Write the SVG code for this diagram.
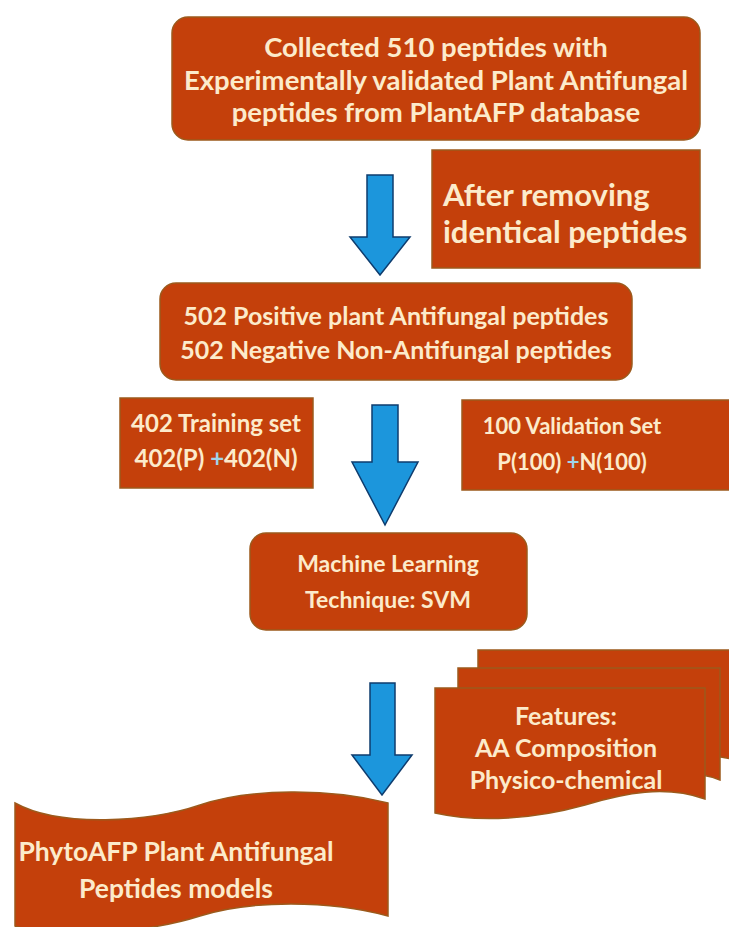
<svg xmlns="http://www.w3.org/2000/svg" width="729" height="927" viewBox="0 0 729 927">
<defs>
<style>
.box{fill:#C4400B;stroke:#9C5A1C;stroke-width:1.5}
.t{font-family:Lato,"Open Sans","Liberation Sans",sans-serif;font-weight:bold;fill:#FCEBCB;text-anchor:middle}
.ts{font-family:Lato,"Open Sans","Liberation Sans",sans-serif;font-weight:bold;fill:#FCEBCB;text-anchor:start}
.arrow{fill:#1C96DC;stroke:#0E3C6E;stroke-width:1.5}
.plus{fill:#9FD4EA}
</style>
</defs>
<rect width="729" height="927" fill="#FFFFFF"/>
<g id="connectors">
<path class="arrow" d="M367,175 H393 V237 H410 L380,275 L350,237 H367 Z"/>
<path class="arrow" d="M372,405 H398 V462 H418 L385,525 L352,462 H372 Z"/>
<path class="arrow" d="M370,683 H395 V755 H412 L382,795 L352,755 H370 Z"/>
</g>
<g id="collected">
<rect class="box" x="172" y="17" width="528" height="123" rx="16"/>
<text class="t" font-size="27.5" x="436" y="57">Collected 510 peptides with</text>
<text class="t" font-size="27.5" x="436" y="90">Experimentally validated Plant Antifungal</text>
<text class="t" font-size="27.5" x="436" y="122">peptides from PlantAFP database</text>
</g>
<g id="removing">
<rect class="box" x="432" y="150" width="268" height="118"/>
<text class="ts" font-size="31" x="443" y="206">After removing</text>
<text class="ts" font-size="31" x="443" y="243">identical peptides</text>
</g>
<g id="dataset">
<rect class="box" x="160" y="283" width="472" height="97" rx="16"/>
<text class="t" font-size="25" x="396" y="325">502 Positive plant Antifungal peptides</text>
<text class="t" font-size="25" x="396" y="359">502 Negative Non-Antifungal peptides</text>
</g>
<g id="training">
<rect class="box" x="120" y="398" width="193" height="90"/>
<text class="t" font-size="24" x="216" y="432">402 Training set</text>
<text class="t" font-size="24" x="216" y="467">402(P) <tspan class="plus">+</tspan>402(N)</text>
</g>
<g id="validation">
<rect class="box" x="462" y="400" width="270" height="90"/>
<text class="t" font-size="22" x="572" y="434">100 Validation Set</text>
<text class="t" font-size="22" x="572" y="470">P(100) <tspan class="plus">+</tspan>N(100)</text>
</g>
<g id="svm">
<rect class="box" x="250" y="533" width="277" height="97" rx="16"/>
<text class="t" font-size="23" x="388" y="572">Machine Learning</text>
<text class="t" font-size="23" x="388" y="608">Technique: SVM</text>
</g>
<g id="features">
<path class="box" d="M478,650 H735 V760 C 700,750 660,757 620,770 L478,770 Z"/>
<path class="box" d="M458,668 H720 V780 C 690,768 650,773 610,788 L458,788 Z"/>
<path class="box" d="M435,688 H705 V799 C 665,785 625,793 585,805 C 535,819 480,823 435,813 Z"/>
<text class="t" font-size="25" x="566" y="725">Features:</text>
<text class="t" font-size="25" x="566" y="757">AA Composition</text>
<text class="t" font-size="25" x="566" y="789">Physico-chemical</text>
</g>
<g id="models">
<path class="box" d="M15,803 C 60,828 150,822 200,805 C 250,788 330,788 388,803 V916 C 330,900 250,900 200,916 C 150,932 60,940 15,926 Z"/>
<text class="t" font-size="26.5" x="176" y="861">PhytoAFP Plant Antifungal</text>
<text class="t" font-size="26.5" x="176" y="898">Peptides models</text>
</g>
</svg>
